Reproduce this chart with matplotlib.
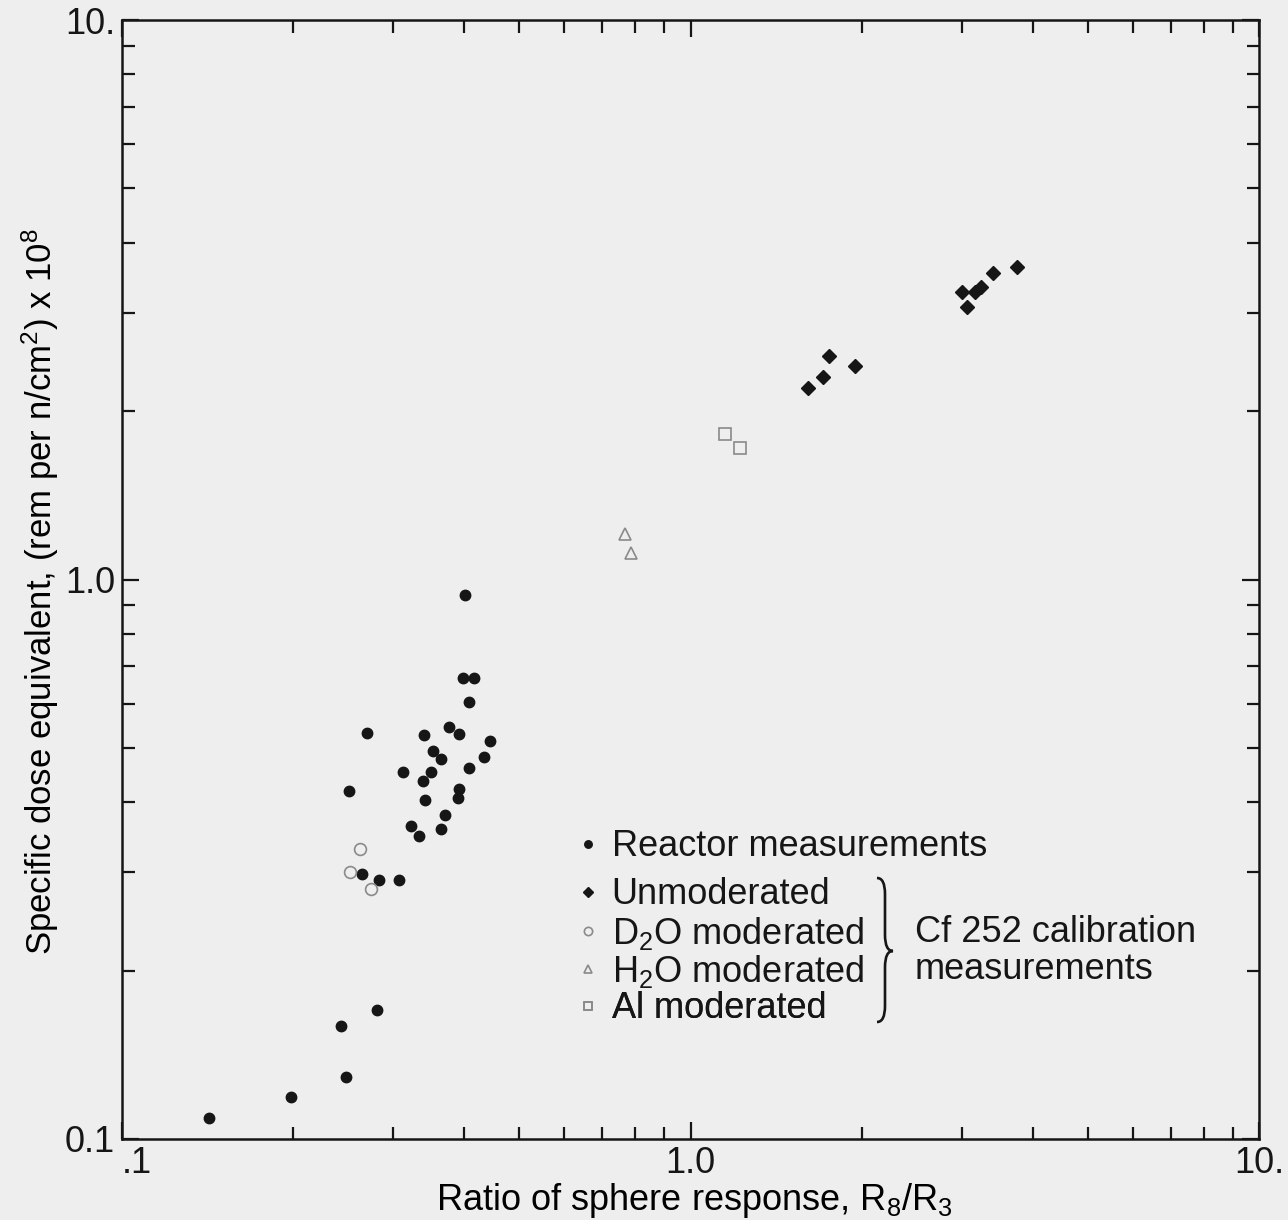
import matplotlib
matplotlib.use("Agg")
import matplotlib.pyplot as plt
from matplotlib.path import Path
from matplotlib.patches import PathPatch
from matplotlib.ticker import LogLocator, NullFormatter

OUTPUT_PATH = "out.png"

# Reactor measurements (R8/R3 ratio, specific dose equivalent x 1e8)
reactor_ratio = [
    0.401, 0.398, 0.416, 0.408, 0.376, 0.392, 0.270, 0.340, 0.444, 0.353,
    0.364, 0.433, 0.312, 0.350, 0.408, 0.339, 0.251, 0.392, 0.390, 0.341,
    0.370, 0.322, 0.333, 0.364, 0.264, 0.283, 0.307, 0.281, 0.243, 0.248,
    0.198, 0.142,
]
reactor_dose = [
    0.938, 0.666, 0.666, 0.605, 0.546, 0.530, 0.531, 0.527, 0.515, 0.494,
    0.478, 0.482, 0.453, 0.453, 0.461, 0.436, 0.419, 0.423, 0.407, 0.403,
    0.379, 0.363, 0.348, 0.358, 0.298, 0.290, 0.290, 0.170, 0.159, 0.129,
    0.119, 0.109,
]

# Cf 252 calibration measurements
unmod_ratio = [3.76, 3.40, 3.24, 3.16, 3.00, 3.07, 1.75, 1.95, 1.71, 1.61]
unmod_dose = [3.62, 3.53, 3.33, 3.27, 3.26, 3.07, 2.51, 2.41, 2.30, 2.20]

d2o_ratio = [0.262, 0.252, 0.274]
d2o_dose = [0.330, 0.300, 0.280]

h2o_ratio = [0.767, 0.786]
h2o_dose = [1.206, 1.117]

al_ratio = [1.150, 1.222]
al_dose = [1.817, 1.720]

x_ticks = [0.1, 1.0, 10.0]
x_tick_labels = [".1", "1.0", "10."]
y_ticks = [0.1, 1.0, 10.0]
y_tick_labels = ["0.1", "1.0", "10."]

W, H = 1288, 1220
BG = "#eeeeee"
INK = "#161616"
GRAY = "#8a8a8a"
FS = 26


def px(x, y):
    return x / W, 1 - y / H


def draw_brace(fig, x_tip, x_spine, x_cusp, top, mid, bot):
    r = 16
    pts = [
        (x_tip, top), (x_spine, top), (x_spine, top + r),
        (x_spine, mid - r), (x_spine, mid), (x_cusp, mid),
        (x_spine, mid), (x_spine, mid + r),
        (x_spine, bot - r), (x_spine, bot), (x_tip, bot),
    ]
    codes = [
        Path.MOVETO, Path.CURVE3, Path.CURVE3,
        Path.LINETO, Path.CURVE3, Path.CURVE3,
        Path.CURVE3, Path.CURVE3,
        Path.LINETO, Path.CURVE3, Path.CURVE3,
    ]
    path = Path([px(*p) for p in pts], codes)
    fig.add_artist(PathPatch(path, transform=fig.transFigure,
                             facecolor="none", edgecolor=INK, linewidth=1.9))


def main():
    plt.rcParams["font.family"] = ["Liberation Sans", "DejaVu Sans"]
    plt.rcParams["mathtext.fontset"] = "custom"
    plt.rcParams["mathtext.rm"] = "Liberation Sans"
    plt.rcParams["mathtext.it"] = "Liberation Sans:italic"
    plt.rcParams["text.color"] = INK

    fig = plt.figure(figsize=(W / 100, H / 100), dpi=100, facecolor=BG)
    left, top = px(122, 20)
    right, bottom = px(1259, 1139)
    ax = fig.add_axes([left, bottom, right - left, top - bottom])
    ax.set_facecolor(BG)

    reactor, = ax.plot(reactor_ratio, reactor_dose, "o", ms=7.5,
                       color=INK, ls="none")
    unmod, = ax.plot(unmod_ratio, unmod_dose, "D", ms=6.8,
                     color=INK, ls="none")
    d2o, = ax.plot(d2o_ratio, d2o_dose, "o", ms=8.5, mfc="none",
                   mec=GRAY, mew=1.2, ls="none")
    h2o, = ax.plot(h2o_ratio, h2o_dose, "^", ms=8.5, mfc="none",
                   mec=GRAY, mew=1.2, ls="none")
    al, = ax.plot(al_ratio, al_dose, "s", ms=9, mfc="none",
                  mec=GRAY, mew=1.2, ls="none")

    ax.set_xscale("log")
    ax.set_yscale("log")
    ax.set_xlim(0.1, 10)
    ax.set_ylim(0.1, 10)
    ax.set_xticks(x_ticks, labels=x_tick_labels)
    ax.set_yticks(y_ticks, labels=y_tick_labels)
    ax.get_xticklabels()[0].set_ha("left")
    for axis in (ax.xaxis, ax.yaxis):
        axis.set_minor_locator(LogLocator(base=10, subs=range(2, 10)))
        axis.set_minor_formatter(NullFormatter())
    ax.tick_params(which="both", direction="in", top=True, right=True,
                   width=1.6, color=INK, labelsize=FS, labelcolor=INK)
    ax.tick_params(which="major", length=12, pad=5)
    ax.tick_params(which="minor", length=9)
    for spine in ax.spines.values():
        spine.set_linewidth(1.8)
        spine.set_color(INK)

    ax.set_xlabel("Ratio of sphere response, R$_8$/R$_3$", fontsize=FS,
                  va="center")
    ax.set_ylabel("Specific dose equivalent, (rem per n/cm$^2$) x 10$^8$",
                  fontsize=25, va="center")
    ax.xaxis.set_label_coords((694 - 122) / 1137, (1139 - 1200) / 1119)
    ax.yaxis.set_label_coords((40 - 122) / 1137, (1139 - 592) / 1119)

    entries = [
        (reactor, "Reactor measurements", 847, 0.72),
        (unmod, "Unmoderated", 895, 0.75),
        (d2o, "D$_2$O moderated", 933, 0.7),
        (h2o, "H$_2$O moderated", 971, 0.7),
        (al, "Al moderated", 1009, 0.7),
    ]
    for handle, label, ypx, scale in entries:
        leg = ax.legend([handle], [label], loc="center left",
                        bbox_to_anchor=px(570, ypx),
                        bbox_transform=fig.transFigure, frameon=False,
                        fontsize=FS, borderpad=0, borderaxespad=0,
                        handlelength=1.0, handletextpad=0.15,
                        markerscale=scale)
        ax.add_artist(leg)

    draw_brace(fig, 877, 885, 893, 878, 951, 1022)
    fig.text(*px(915, 951), "Cf 252 calibration\nmeasurements",
             fontsize=FS, ha="left", va="center", linespacing=1.05)

    fig.savefig(OUTPUT_PATH, dpi=100, facecolor=BG)
    plt.close(fig)
    print(f"Saved: {OUTPUT_PATH}")


if __name__ == "__main__":
    main()
